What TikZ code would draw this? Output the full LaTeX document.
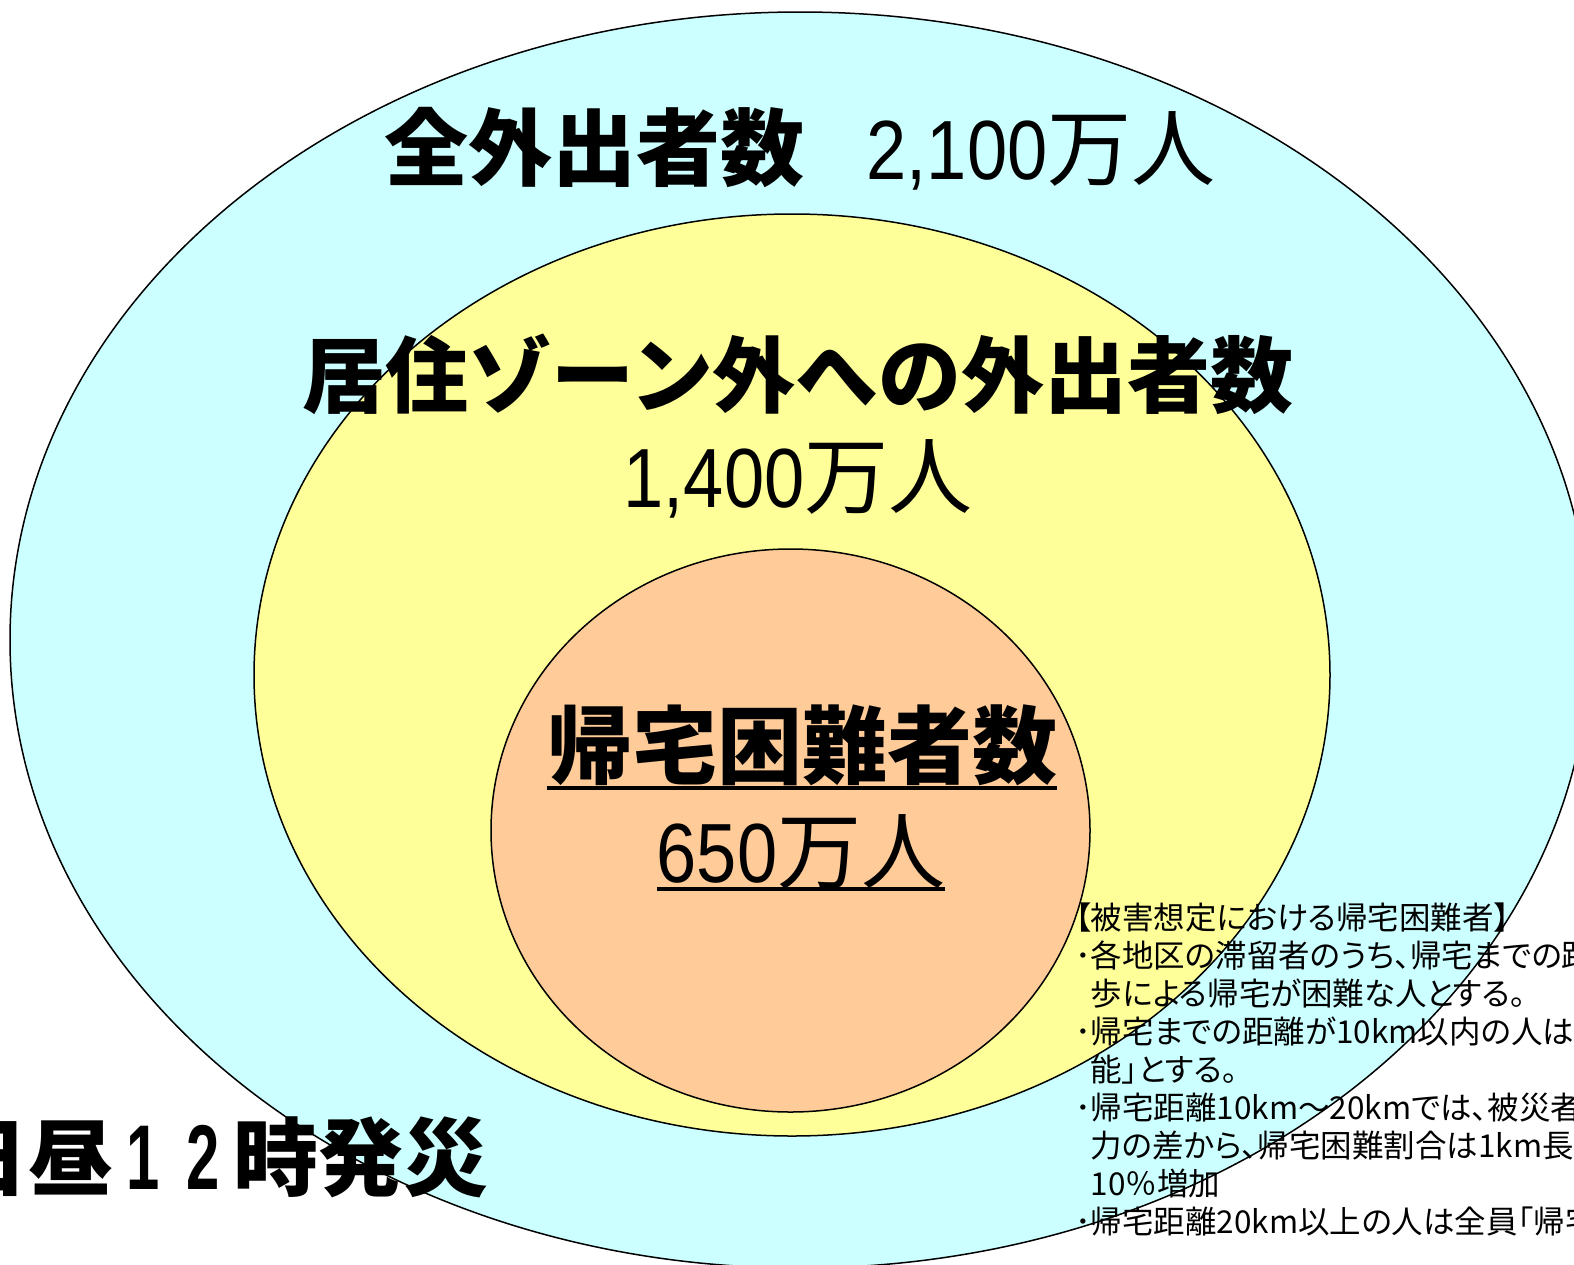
\documentclass[tikz,border=0pt]{standalone}
\usepackage{fontspec}
\setmainfont{Liberation Sans}
\newfontfamily\jp{Noto Sans CJK JP}
\newfontfamily\jpp[RawFeature=+palt]{Noto Sans CJK JP}
\newfontfamily\numf[FakeStretch=0.86]{Liberation Sans}
\newfontfamily\numb[FakeStretch=0.65]{Liberation Sans}
\usetikzlibrary{shapes.geometric}
\definecolor{outerc}{HTML}{CCFFFF}
\definecolor{midc}{HTML}{FFFF99}
\definecolor{innerc}{HTML}{FFCC99}
\begin{document}
\begin{tikzpicture}[x=1pt,y=-1pt,
  ring/.style={ellipse, draw=black, line width=1.5pt, inner sep=0pt},
  head/.style={inner sep=0pt, anchor=base},
  uline/.style={line width=4pt}]
\useasboundingbox (0,0) rectangle (1574,1264);
\clip (0,0) rectangle (1574,1264);
\fill[white] (0,0) rectangle (1574,1264);
\node[ring, fill=outerc, minimum width=1580pt, minimum height=1256pt] (outer) at (800,640) {};
\node[ring, fill=midc, minimum width=1076pt, minimum height=922pt] (mid) at (792,675) {};
\node[ring, fill=innerc, minimum width=599pt, minimum height=563pt] (inner) at (790.5,830.5) {};
\node[head] (t1) at (800,179) {\fontsize{84}{100}\selectfont{\jp\bfseries 全外出者数}\hspace{62pt}{\numf 2,100}{\jp 万人}};
\node[head] (t2) at (798,406) {\fontsize{83}{100}\selectfont\jp\bfseries 居住ゾーン外への外出者数};
\node[head] (t3) at (798,507) {\fontsize{84}{100}\selectfont{\numf 1,400}{\jp 万人}};
\node[head] (t4) at (802,777) {\fontsize{85}{100}\selectfont\jp\bfseries 帰宅困難者数};
\node[head] (t5) at (801,882) {\fontsize{84}{100}\selectfont{\numf 650}{\jp 万人}};
\draw[uline] ([yshift=-11pt]t4.base west) -- ([yshift=-11pt]t4.base east);
\draw[uline] ([yshift=-7pt]t5.base west) -- ([yshift=-7pt]t5.base east);
\node[inner sep=0pt, anchor=base west] (t6) at (-57,1189) {\fontsize{85}{100}\selectfont\jp\bfseries 日昼\makebox[60pt]{\fontsize{92}{100}\selectfont\numb\bfseries 1}\makebox[60pt]{\fontsize{92}{100}\selectfont\numb\bfseries 2}時発災};
\node[inner sep=0pt, anchor=north west, align=left, font=\fontsize{31.5}{38}\selectfont\jpp] (note) at (1075,903) {%
【被害想定における帰宅困難者】\\
･各地区の滞留者のうち、帰宅までの距\\
\phantom{･}歩による帰宅が困難な人とする。\\
･帰宅までの距離が10km以内の人は\\
\phantom{･}能」とする。\\
･帰宅距離10km～20kmでは、被災者\\
\phantom{･}力の差から、帰宅困難割合は1km長\\
\phantom{･}10％増加\\
･帰宅距離20km以上の人は全員「帰宅};
\end{tikzpicture}
\end{document}
